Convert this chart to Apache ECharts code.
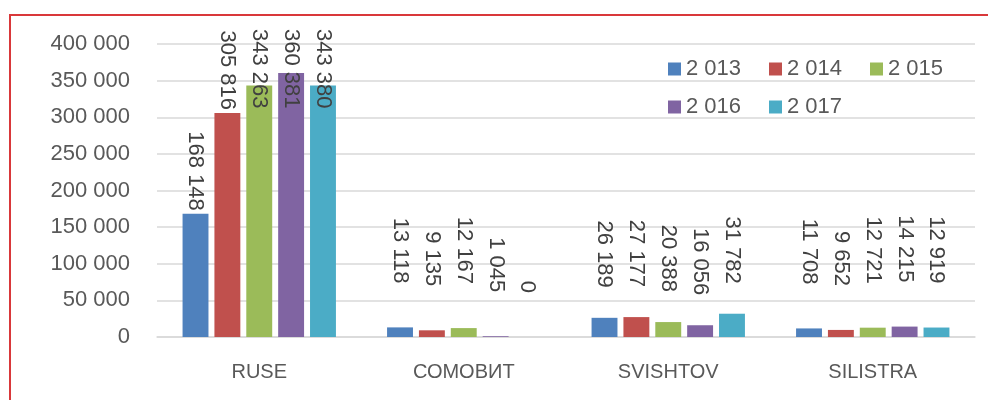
<!DOCTYPE html>
<html>
<head>
<meta charset="utf-8">
<script src="https://cdn.jsdelivr.net/npm/echarts@6/dist/echarts.min.js"></script>
<style>
  html, body { margin: 0; padding: 0; background: #fff; }
  #chart { width: 988px; height: 400px; }
</style>
</head>
<body>
<div id="chart"></div>
<script>
// data
const ports = ['RUSE', 'СОМОВИТ', 'SVISHTOV', 'SILISTRA']
const years = [2013, 2014, 2015, 2016, 2017]
const v2013 = [168148, 13118, 26189, 11708]
const v2014 = [305816, 9135, 27177, 9652]
const v2015 = [343263, 12167, 20388, 12721]
const v2016 = [360381, 1045, 16056, 14215]
const v2017 = [343380, 0, 31782, 12919]
const yTicks = [0, 50000, 100000, 150000, 200000, 250000, 300000, 350000, 400000]

const colors = ['#4F81BD', '#C0504D', '#9BBB59', '#8064A2', '#4BACC6']
// gap between bar top and its label, per category (labels sit higher on small bars)
const labelDist = [3, 44, 30, 44]
const font = '"Liberation Sans", Arial, sans-serif'

// 400000 -> "400 000"
function fmt(n) {
  return String(n).replace(/\B(?=(\d{3})+(?!\d))/g, ' ')
}

const values = [v2013, v2014, v2015, v2016, v2017]

let myChart = echarts.init(document.getElementById('chart'))

const series = years.map(function (y, i) {
  return {
    name: String(y),
    type: 'bar',
    barGap: '23%',
    barCategoryGap: '25%',
    itemStyle: { color: colors[i] },
    data: values[i].map(function (v, j) {
      return { value: v, label: { distance: labelDist[j] } }
    }),
    label: {
      show: true,
      position: 'top',
      rotate: -90,
      align: 'right',
      verticalAlign: 'middle',
      fontFamily: font,
      fontSize: 22,
      color: '#404040',
      formatter: function (p) { return fmt(p.value) }
    },
    // keep labels inside the chart area like the original
    labelLayout: function (p) {
      if (p.labelRect.y < 29) {
        return { y: 29 + p.labelRect.height }
      }
    }
  }
})

myChart.setOption({
  animation: false,
  color: colors,
  // red frame of the figure (left and top edges only are in view)
  graphic: [{
    type: 'polyline',
    shape: { points: [[10, 400], [10, 15], [988, 15]] },
    style: { fill: 'none', stroke: '#D9383A', lineWidth: 2 },
    silent: true
  }],
  grid: { left: 157, right: 13, top: 44, bottom: 63 },
  legend: {
    left: 663,
    top: 49,
    width: 320,
    itemWidth: 13,
    itemHeight: 13,
    itemGap: 8,
    icon: 'rect',
    textStyle: {
      fontFamily: font,
      fontSize: 22,
      color: '#595959',
      width: 75,
      lineHeight: 30
    },
    formatter: function (name) { return fmt(Number(name)) },
    data: years.map(String)
  },
  xAxis: {
    type: 'category',
    data: ports,
    axisLine: { lineStyle: { color: '#D9D9D9', width: 1.5 } },
    axisTick: { show: false },
    axisLabel: {
      fontFamily: font,
      fontSize: 20,
      color: '#595959',
      margin: 25
    }
  },
  yAxis: {
    type: 'value',
    min: yTicks[0],
    max: yTicks[yTicks.length - 1],
    interval: yTicks[1] - yTicks[0],
    axisLine: { show: false },
    axisTick: { show: false },
    splitLine: { lineStyle: { color: '#D9D9D9', width: 1.5 } },
    axisLabel: {
      fontFamily: font,
      fontSize: 22,
      color: '#595959',
      margin: 27,
      formatter: function (v) { return fmt(v) }
    }
  },
  series: series
})
</script>
</body>
</html>
